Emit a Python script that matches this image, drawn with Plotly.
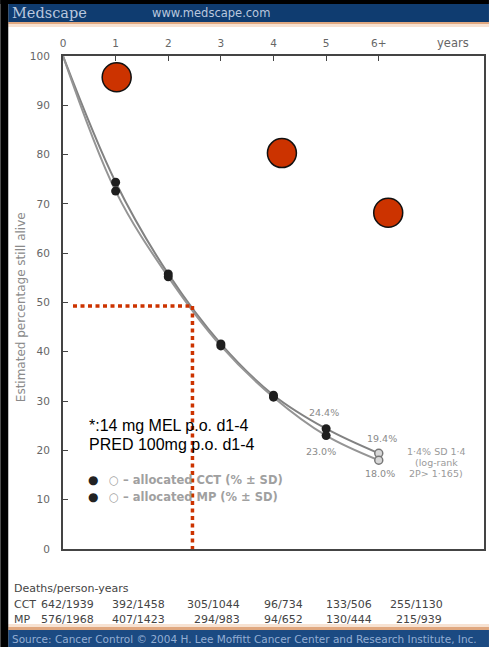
import plotly.graph_objects as go

# ---- data ----
years = [0, 1, 2, 3, 4, 5, 6]
year_labels = ["0", "1", "2", "3", "4", "5", "6+"]
cct = [100, 74.4, 55.8, 41.6, 31.2, 24.4, 19.4]
mp = [100, 72.6, 55.2, 41.2, 30.8, 23.0, 18.0]
y_ticks = [0, 10, 20, 30, 40, 50, 60, 70, 80, 90, 100]

highlight_x = [1.02, 4.16, 6.18]
highlight_y = [95.7, 80.3, 68.2]

median_x = 2.46
median_y = 49.3

pct_labels = ["24.4%", "23.0%", "19.4%", "18.0%"]
pct_x = [4.96, 4.9, 6.07, 6.03]
pct_y = [27.6, 19.7, 22.5, 15.4]

table_header = "Deaths/person-years"
cct_deaths = ["642/1939", "392/1458", "305/1044", "96/734", "133/506", "255/1130"]
mp_deaths = ["576/1968", "407/1423", "294/983", "94/652", "130/444", "215/939"]

W, H = 491, 647
L, R, T, B = 63, 486, 56, 549
SANS = "DejaVu Sans"


def px(x):
    return (x - L) / (R - L)


def py(y):
    return (B - y) / (B - T)


def note(x, y, text, size, color, family=SANS, xanchor="left", **kw):
    return dict(x=px(x), y=py(y), xref="paper", yref="paper", text=text, showarrow=False,
                xanchor=xanchor, yanchor="middle", font=dict(size=size, color=color, family=family), **kw)


fig = go.Figure()

fig.add_trace(go.Scatter(x=years, y=cct, mode="lines", line=dict(color="#828282", width=2, shape="spline"),
                         showlegend=False, hoverinfo="skip"))
fig.add_trace(go.Scatter(x=years, y=mp, mode="lines", line=dict(color="#959595", width=2, shape="spline"),
                         showlegend=False, hoverinfo="skip"))
fig.add_trace(go.Scatter(x=years[1:6], y=cct[1:6], mode="markers",
                         marker=dict(color="#1e1e1e", size=9), showlegend=False))
fig.add_trace(go.Scatter(x=years[1:6], y=mp[1:6], mode="markers",
                         marker=dict(color="#1e1e1e", size=9), showlegend=False))
fig.add_trace(go.Scatter(x=[years[6], years[6]], y=[cct[6], mp[6]], mode="markers",
                         marker=dict(color="#d8d8d8", size=8, line=dict(color="#777", width=1.5)),
                         showlegend=False))

red = "#cc3300"
fig.add_trace(go.Scatter(x=highlight_x, y=highlight_y, mode="markers",
                         marker=dict(color=red, size=29, line=dict(color="#111", width=1.5)),
                         showlegend=False, cliponaxis=False))

annotations = []
for t, x, y in zip(pct_labels, pct_x, pct_y):
    annotations.append(dict(x=x, y=y, xref="x", yref="y", text=t, showarrow=False,
                            xanchor="center", yanchor="middle",
                            font=dict(size=9.5, color="#8a8a8a", family=SANS)))

for i, t in enumerate(["1·4% SD 1·4", "(log-rank", "2P> 1·165)"]):
    annotations.append(note(438, 452 + i * 10.5, t, 9.5, "#9a9a9a", xanchor="center"))

annotations.append(note(87, 425, "*:14 mg MEL p.o. d1-4", 16, "#000", family="Liberation Sans"))
annotations.append(note(87, 444, "PRED 100mg p.o. d1-4", 16, "#000", family="Liberation Sans"))

for i, t in enumerate(["○ – allocated CCT (% ± SD)", "○ – allocated MP (% ± SD)"]):
    yy = 480 + i * 17
    annotations.append(note(93, yy, "●", 12, "#222", xanchor="center"))
    annotations.append(note(107, yy, "<b>" + t + "</b>", 11.5, "#a0a0a0"))

annotations.append(note(455, 43, "years", 11.5, "#666", xanchor="center"))
annotations.append(note(21, 307, "Estimated percentage still alive", 12, "#8a8a8a", xanchor="center",
                        textangle=-90))

tc = "#444"
annotations.append(note(12, 588, table_header, 11, tc))
annotations.append(note(12, 604, "CCT", 11, tc))
annotations.append(note(12, 619, "MP", 11, tc))
cct_x = [39, 110, 186, 263, 325, 390]
mp_x = [39, 110, 193, 263, 325, 396]
for t, x in zip(cct_deaths, cct_x):
    annotations.append(note(x, 604, t, 11, tc))
for t, x in zip(mp_deaths, mp_x):
    annotations.append(note(x, 619, t, 11, tc))

annotations.append(note(10, 13, "Medscape", 14.5, "#b9c7de", family="DejaVu Serif"))
annotations.append(note(150, 13, "www.medscape.com", 11.5, "#b9c7de"))
annotations.append(note(10, 639, "Source: Cancer Control © 2004 H. Lee Moffitt Cancer Center and Research Institute, Inc.",
                        10.5, "#93aed4"))

dot_line = dict(color=red, width=3.5, dash="4px,3.5px")
shapes = [
    dict(type="line", xref="x", yref="y", x0=0.19, x1=median_x, y0=median_y, y1=median_y, line=dot_line),
    dict(type="line", xref="x", yref="y", x0=median_x, x1=median_x, y0=median_y, y1=0, line=dot_line),
    dict(type="rect", xref="paper", yref="paper", x0=px(0), x1=px(W), y0=py(0), y1=py(4),
         fillcolor="#000", line_width=0, layer="above"),
    dict(type="rect", xref="paper", yref="paper", x0=px(8), x1=px(W), y0=py(4), y1=py(22),
         fillcolor="#0f3c70", line_width=0, layer="above"),
    dict(type="rect", xref="paper", yref="paper", x0=px(8), x1=px(W), y0=py(22), y1=py(24),
         fillcolor="#e0a880", line_width=0, layer="above"),
    dict(type="rect", xref="paper", yref="paper", x0=px(8), x1=px(W), y0=py(24), y1=py(27),
         fillcolor="#f7e2d2", line_width=0, layer="above"),
    dict(type="rect", xref="paper", yref="paper", x0=px(8), x1=px(W), y0=py(624), y1=py(627),
         fillcolor="#f7e2d2", line_width=0, layer="above"),
    dict(type="rect", xref="paper", yref="paper", x0=px(8), x1=px(W), y0=py(627), y1=py(630),
         fillcolor="#e0a880", line_width=0, layer="above"),
    dict(type="rect", xref="paper", yref="paper", x0=px(8), x1=px(W), y0=py(630), y1=py(H),
         fillcolor="#1b4a82", line_width=0, layer="above"),
    dict(type="rect", xref="paper", yref="paper", x0=px(0), x1=px(8), y0=py(0), y1=py(H),
         fillcolor="#000", line_width=0, layer="above"),
]

fig.update_layout(
    width=W, height=H, autosize=False,
    margin=dict(l=L, r=W - R, t=T, b=H - B, pad=0),
    paper_bgcolor="white", plot_bgcolor="white",
    showlegend=False,
    annotations=annotations,
    shapes=shapes,
    font=dict(family=SANS, color="#555"),
)
fig.update_xaxes(range=[0, 8], side="top", tickvals=years, ticktext=year_labels,
                 ticks="inside", ticklen=5, tickcolor="#444", showline=True, linecolor="#444", linewidth=2,
                 mirror=True, showgrid=False, zeroline=False,
                 tickfont=dict(size=10.5, color="#666", family=SANS), ticklabelstandoff=3)
fig.update_yaxes(range=[0, 100], tickvals=y_ticks, ticks="inside", ticklen=5, tickcolor="#444",
                 showline=True, linecolor="#444", linewidth=2, mirror=True, showgrid=False, zeroline=False,
                 tickfont=dict(size=10.5, color="#666", family=SANS), ticklabelstandoff=9)

post = ("document.body.style.margin='0';document.body.style.padding='0';"
        "document.body.style.overflow='hidden';document.body.style.background='white';"
        "var gd=document.getElementById('{plot_id}');"
        "Plotly.relayout(gd,{width:491,height:647});")
fig.write_html("out.html", config={"responsive": False, "displayModeBar": False}, post_script=post)
